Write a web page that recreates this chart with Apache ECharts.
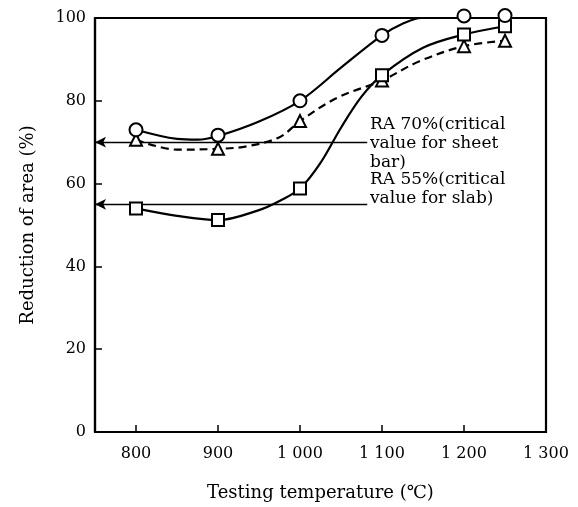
<!DOCTYPE html>
<html><head><meta charset="utf-8">
<script src="https://cdn.jsdelivr.net/npm/echarts@6/dist/echarts.min.js"></script>
<style>html,body{margin:0;padding:0;background:#fff}#c{width:578px;height:507px}</style>
</head><body><div id="c"></div>
<script>
// measured points
const temps = [800, 900, 1000, 1100, 1200, 1250];
const raCircle = [73, 71.7, 80, 95.8, 100.5, 100.6];
const raSquare = [54, 51.2, 58.8, 86.2, 96, 98];
const raTriangle = [70.6, 68.4, 75.1, 84.9, 93.2, 94.5];
// fitted curves as drawn in the picture
const curveCircleX = [800, 850, 875, 900, 950, 1000, 1050, 1100, 1125, 1148, 1250];
const curveCircleY = [73, 70.8, 70.6, 71.5, 75, 80, 88, 95.8, 98.6, 100, 100];
const curveSquareX = [800, 850, 900, 950, 975, 1000, 1025, 1050, 1075, 1100, 1150, 1200, 1250];
const curveSquareY = [54, 52.2, 51.2, 53.6, 55.8, 58.8, 65, 73.5, 81, 86.2, 92.8, 96, 98];
const curveTriangleX = [800, 850, 900, 935, 975, 1000, 1045, 1100, 1145, 1200, 1250];
const curveTriangleY = [70.6, 68.2, 68.4, 69, 71.2, 75.1, 80.7, 84.9, 89.5, 93.2, 94.5];
// critical values (reference arrows)
const refValues = [70, 55];
const refStart = 750, refEnd = 1082;
const refTexts = ['RA 70%(critical\nvalue for sheet\nbar)', 'RA 55%(critical\nvalue for slab)'];
// axis
const xLabelValues = [800, 900, 1000, 1100, 1200, 1300];
const xTickValues = [800, 900, 1000, 1100, 1200];

const zip = (xs, ys) => xs.map((x, i) => [x, ys[i]]);
const fmtX = v => v >= 1000 ? String(v).slice(0, 1) + ' ' + String(v).slice(1) : String(v);
const serif = 'DejaVu Serif';

const chart = echarts.init(document.getElementById('c'), null, {renderer: 'canvas'});
const curveStyle = {color: '#000', width: 2.2};
const markerStyle = {color: '#fff', borderColor: '#000', borderWidth: 2, opacity: 1};

chart.setOption({
  animation: false,
  backgroundColor: '#fff',
  grid: {left: 95, right: 32, top: 18, bottom: 68, show: true, borderColor: '#000', borderWidth: 2.2},
  xAxis: {
    type: 'value', min: 750, max: 1300,
    name: 'Testing temperature (℃)', nameLocation: 'middle', nameGap: 52,
    nameTextStyle: {fontFamily: serif, fontSize: 18, color: '#000'},
    axisLine: {lineStyle: {color: '#000', width: 2.2}},
    axisTick: {inside: true, length: 7, lineStyle: {color: '#000', width: 1.5}, customValues: xTickValues},
    axisLabel: {margin: 14, fontFamily: serif, fontSize: 16, color: '#000', customValues: xLabelValues, formatter: fmtX},
    splitLine: {show: false}
  },
  yAxis: {
    type: 'value', min: 0, max: 100, interval: 20,
    name: 'Reduction of area (%)', nameLocation: 'middle', nameGap: 58, nameRotate: 90,
    nameTextStyle: {fontFamily: serif, fontSize: 18, color: '#000'},
    axisLine: {lineStyle: {color: '#000', width: 2.2}},
    axisTick: {inside: true, length: 7, lineStyle: {color: '#000', width: 1.5}},
    axisLabel: {margin: 9, fontFamily: serif, fontSize: 16, color: '#000'},
    splitLine: {show: false}
  },
  series: [
    {type: 'line', data: zip(curveCircleX, curveCircleY), smooth: 0.35, showSymbol: false, lineStyle: curveStyle, clip: false, z: 2,
     markLine: {
       silent: true, symbol: ['arrow', 'none'], symbolSize: [8, 11],
       lineStyle: {color: '#000', width: 1.4, type: 'solid'}, label: {show: false},
       data: refValues.map(v => [{coord: [refStart, v]}, {coord: [refEnd, v]}])
     }},
    {type: 'line', data: zip(curveSquareX, curveSquareY), smooth: 0.35, showSymbol: false, lineStyle: curveStyle, clip: false, z: 2},
    {type: 'line', data: zip(curveTriangleX, curveTriangleY), smooth: 0.35, showSymbol: false, lineStyle: {color: '#000', width: 2.2, type: [8, 5]}, clip: false, z: 2},
    {type: 'scatter', data: zip(temps, raTriangle), symbol: 'triangle', symbolSize: 12, itemStyle: markerStyle, clip: false, z: 5},
    {type: 'scatter', data: zip(temps, raSquare), symbol: 'rect', symbolSize: 12, itemStyle: markerStyle, clip: false, z: 6},
    {type: 'scatter', data: zip(temps, raCircle), symbol: 'circle', symbolSize: 13, itemStyle: markerStyle, clip: false, z: 7}
  ],
  graphic: [
    {type: 'text', left: 370, top: 115, style: {text: refTexts[0], font: '17px "DejaVu Serif"', fill: '#000', lineHeight: 19}},
    {type: 'text', left: 370, top: 170, style: {text: refTexts[1], font: '17px "DejaVu Serif"', fill: '#000', lineHeight: 19}}
  ]
});
</script></body></html>
